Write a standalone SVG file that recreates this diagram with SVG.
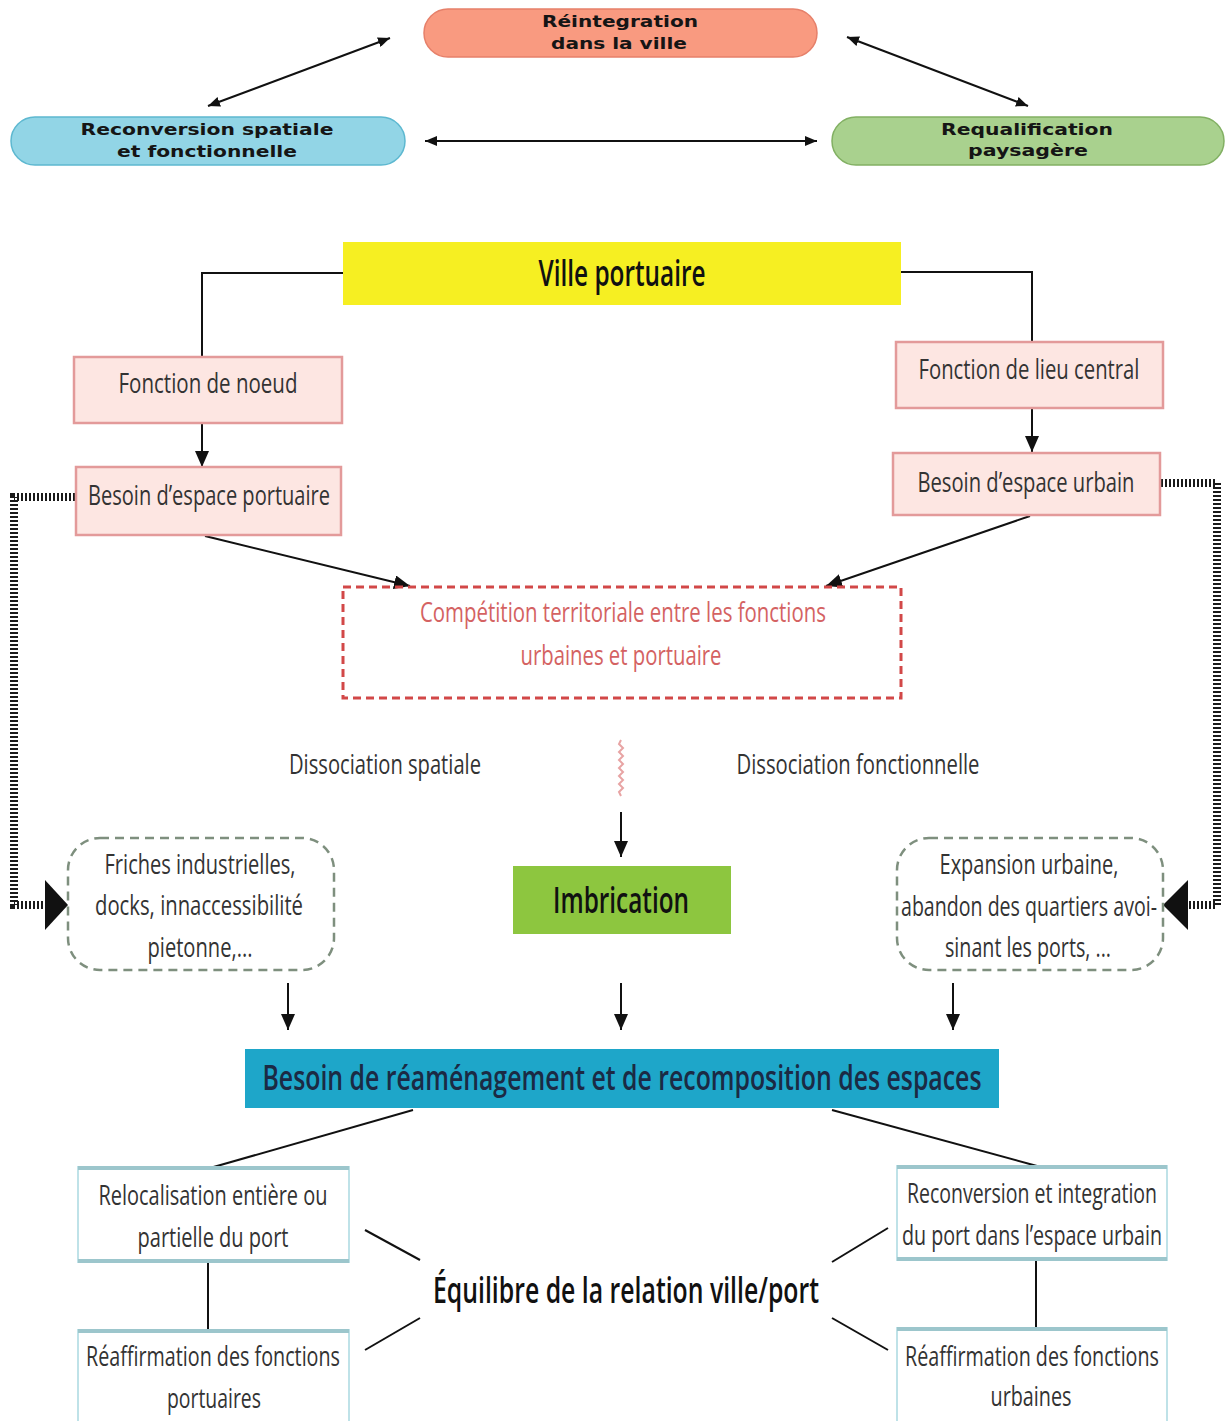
<svg xmlns="http://www.w3.org/2000/svg" width="1225" height="1421" viewBox="0 0 1225 1421">
<defs>
<style>
.t{font-family:"Open Sans","Liberation Sans",sans-serif;fill:#333;text-anchor:middle;}
.h{font-weight:600;}
.tb{font-family:"DejaVu Sans","Liberation Sans",sans-serif;font-weight:bold;font-size:16px;fill:#151515;text-anchor:middle;}
.pink{fill:#fde6e2;stroke:#e39a9a;stroke-width:2.5;}
.blue{fill:#ffffff;stroke:#bfe2e8;stroke-width:2;}
.edge{stroke:#9cc6cc;stroke-width:4;}
.ln{fill:none;stroke:#111;stroke-width:2;}
.stripe{fill:none;stroke:#1a1a1a;stroke-width:8;stroke-dasharray:2 2;}
</style>
<marker id="ah" viewBox="0 0 12 10" refX="12" refY="5" markerWidth="12" markerHeight="10" markerUnits="userSpaceOnUse" orient="auto-start-reverse">
<path d="M0,0 L12,5 L0,10 z" fill="#111"/>
</marker>
<marker id="ahb" viewBox="0 0 16 14" refX="16" refY="7" markerWidth="16" markerHeight="14" markerUnits="userSpaceOnUse" orient="auto">
<path d="M0,0 L16,7 L0,14 z" fill="#111"/>
</marker>
</defs>
<rect width="1225" height="1421" fill="#ffffff"/>

<g id="connectors">
<line class="ln" x1="390" y1="38" x2="208" y2="106" marker-start="url(#ah)" marker-end="url(#ah)"/>
<line class="ln" x1="847" y1="37" x2="1028" y2="106" marker-start="url(#ah)" marker-end="url(#ah)"/>
<line class="ln" x1="425" y1="141" x2="817" y2="141" marker-start="url(#ah)" marker-end="url(#ah)"/>
<polyline class="ln" points="343,273 202,273 202,357"/>
<polyline class="ln" points="901,272 1032,272 1032,342"/>
<line class="ln" x1="202" y1="423" x2="202" y2="467" marker-end="url(#ahb)"/>
<line class="ln" x1="1032" y1="408" x2="1032" y2="452" marker-end="url(#ahb)"/>
<line class="ln" x1="205" y1="536" x2="410" y2="586" marker-end="url(#ahb)"/>
<line class="ln" x1="1030" y1="516" x2="826" y2="586" marker-end="url(#ahb)"/>
<polyline class="stripe" points="75,497 14,497 14,905 46,905"/>
<polygon points="45,880 68,905 45,930" fill="#111"/>
<polyline class="stripe" points="1161,483 1217,483 1217,905 1187,905"/>
<polygon points="1188,880 1163,905 1188,930" fill="#111"/>
<path d="M621,740 l-2,4 l4,4 l-4,4 l4,4 l-4,4 l4,4 l-4,4 l4,4 l-4,4 l4,4 l-4,4 l4,4 l-4,4 l2,4" fill="none" stroke="#e8a4a4" stroke-width="2"/>
<line class="ln" x1="621" y1="812" x2="621" y2="857" marker-end="url(#ahb)"/>
<line class="ln" x1="288" y1="983" x2="288" y2="1030" marker-end="url(#ahb)"/>
<line class="ln" x1="621" y1="983" x2="621" y2="1030" marker-end="url(#ahb)"/>
<line class="ln" x1="953" y1="983" x2="953" y2="1030" marker-end="url(#ahb)"/>
<line class="ln" x1="413" y1="1110" x2="210" y2="1168"/>
<line class="ln" x1="832" y1="1110" x2="1037" y2="1166"/>
<line class="ln" x1="208" y1="1262" x2="208" y2="1330" stroke-width="1.5"/>
<line class="ln" x1="1036" y1="1260" x2="1036" y2="1328" stroke-width="1.5"/>
<line class="ln" x1="365" y1="1230" x2="420" y2="1260"/>
<line class="ln" x1="365" y1="1350" x2="420" y2="1318"/>
<line class="ln" x1="832" y1="1262" x2="888" y2="1228"/>
<line class="ln" x1="832" y1="1318" x2="888" y2="1350"/>
</g>

<g id="n-reintegration">
<rect x="424" y="9" width="393" height="48" rx="24" fill="#f99a80" stroke="#e6806a" stroke-width="1.5"/>
<text class="tb" x="620" y="27" textLength="156" lengthAdjust="spacingAndGlyphs">Réintegration</text>
<text class="tb" x="619" y="49" textLength="136" lengthAdjust="spacingAndGlyphs">dans la ville</text>
</g>
<g id="n-reconversion-spatiale">
<rect x="11" y="117" width="394" height="48" rx="24" fill="#92d5e6" stroke="#5db8d0" stroke-width="1.5"/>
<text class="tb" x="207" y="135" textLength="253" lengthAdjust="spacingAndGlyphs">Reconversion spatiale</text>
<text class="tb" x="207" y="157" textLength="180" lengthAdjust="spacingAndGlyphs">et fonctionnelle</text>
</g>
<g id="n-requalification">
<rect x="832" y="117" width="392" height="48" rx="24" fill="#a9d18e" stroke="#82b063" stroke-width="1.5"/>
<text class="tb" x="1027" y="135" textLength="172" lengthAdjust="spacingAndGlyphs">Requalification</text>
<text class="tb" x="1028" y="156" textLength="120" lengthAdjust="spacingAndGlyphs">paysagère</text>
</g>

<g id="n-ville-portuaire">
<rect x="343" y="242" width="558" height="63" fill="#f6ef22"/>
<text class="t h" x="622" y="286" font-size="36" style="fill:#111" textLength="167" lengthAdjust="spacingAndGlyphs">Ville portuaire</text>
</g>
<g id="n-fonction-noeud">
<rect class="pink" x="74" y="357" width="268" height="66"/>
<text class="t" x="208" y="393" font-size="28" textLength="179" lengthAdjust="spacingAndGlyphs">Fonction de noeud</text>
</g>
<g id="n-besoin-portuaire">
<rect class="pink" x="76" y="467" width="265" height="68"/>
<text class="t" x="209" y="505" font-size="28" textLength="242" lengthAdjust="spacingAndGlyphs">Besoin d’espace portuaire</text>
</g>
<g id="n-fonction-lieu">
<rect class="pink" x="896" y="342" width="267" height="66"/>
<text class="t" x="1029" y="379" font-size="28" textLength="221" lengthAdjust="spacingAndGlyphs">Fonction de lieu central</text>
</g>
<g id="n-besoin-urbain">
<rect class="pink" x="893" y="453" width="267" height="62"/>
<text class="t" x="1026" y="492" font-size="28" textLength="217" lengthAdjust="spacingAndGlyphs">Besoin d’espace urbain</text>
</g>
<g id="n-competition">
<rect x="343" y="587" width="558" height="111" fill="none" stroke="#d24848" stroke-width="3" stroke-dasharray="8 5"/>
<text class="t" x="623" y="622" font-size="28" style="fill:#d46262" textLength="406" lengthAdjust="spacingAndGlyphs">Compétition territoriale entre les fonctions</text>
<text class="t" x="621" y="665" font-size="28" style="fill:#d46262" textLength="201" lengthAdjust="spacingAndGlyphs">urbaines et portuaire</text>
</g>
<g id="l-dissociation-spatiale">
<text class="t" x="385" y="774" font-size="28" textLength="192" lengthAdjust="spacingAndGlyphs">Dissociation spatiale</text>
</g>
<g id="l-dissociation-fonctionnelle">
<text class="t" x="858" y="774" font-size="28" textLength="243" lengthAdjust="spacingAndGlyphs">Dissociation fonctionnelle</text>
</g>
<g id="n-imbrication">
<rect x="513" y="866" width="218" height="68" fill="#8dc63f"/>
<text class="t h" x="621" y="913" font-size="36" style="fill:#111" textLength="136" lengthAdjust="spacingAndGlyphs">Imbrication</text>
</g>
<g id="n-friches">
<rect x="68" y="838" width="266" height="132" rx="32" fill="#ffffff" stroke="#7e8f7e" stroke-width="2.5" stroke-dasharray="9 6"/>
<text class="t" x="200" y="874" font-size="27" textLength="191" lengthAdjust="spacingAndGlyphs">Friches industrielles,</text>
<text class="t" x="199" y="915" font-size="27" textLength="208" lengthAdjust="spacingAndGlyphs">docks, innaccessibilité</text>
<text class="t" x="200" y="957" font-size="27" textLength="105" lengthAdjust="spacingAndGlyphs">pietonne,...</text>
</g>
<g id="n-expansion">
<rect x="897" y="838" width="266" height="132" rx="32" fill="#ffffff" stroke="#7e8f7e" stroke-width="2.5" stroke-dasharray="9 6"/>
<text class="t" x="1029" y="874" font-size="27" textLength="179" lengthAdjust="spacingAndGlyphs">Expansion urbaine,</text>
<text class="t" x="1029" y="916" font-size="27" textLength="256" lengthAdjust="spacingAndGlyphs">abandon des quartiers avoi-</text>
<text class="t" x="1028" y="957" font-size="27" textLength="166" lengthAdjust="spacingAndGlyphs">sinant les ports, ...</text>
</g>
<g id="n-reamenagement">
<rect x="245" y="1049" width="754" height="59" fill="#1ea6c9"/>
<text class="t h" x="622" y="1090" font-size="34" style="fill:#1b2a44" textLength="719" lengthAdjust="spacingAndGlyphs">Besoin de réaménagement et de recomposition des espaces</text>
</g>
<g id="n-relocalisation">
<rect class="blue" x="78" y="1167" width="271" height="95"/>
<line class="edge" x1="78" y1="1168" x2="349" y2="1168"/>
<line class="edge" x1="78" y1="1261" x2="349" y2="1261"/>
<text class="t" x="213" y="1205" font-size="27" textLength="229" lengthAdjust="spacingAndGlyphs">Relocalisation entière ou</text>
<text class="t" x="213" y="1247" font-size="27" textLength="151" lengthAdjust="spacingAndGlyphs">partielle du port</text>
</g>
<g id="n-reaffirmation-portuaires">
<rect class="blue" x="78" y="1330" width="271" height="95"/>
<line class="edge" x1="78" y1="1331" x2="349" y2="1331"/>
<text class="t" x="213" y="1366" font-size="27" textLength="254" lengthAdjust="spacingAndGlyphs">Réaffirmation des fonctions</text>
<text class="t" x="214" y="1408" font-size="27" textLength="94" lengthAdjust="spacingAndGlyphs">portuaires</text>
</g>
<g id="n-reconversion-integration">
<rect class="blue" x="897" y="1166" width="270" height="94"/>
<line class="edge" x1="897" y1="1167" x2="1167" y2="1167"/>
<line class="edge" x1="897" y1="1259" x2="1167" y2="1259"/>
<text class="t" x="1032" y="1203" font-size="27" textLength="250" lengthAdjust="spacingAndGlyphs">Reconversion et integration</text>
<text class="t" x="1032" y="1245" font-size="27" textLength="260" lengthAdjust="spacingAndGlyphs">du port dans l’espace urbain</text>
</g>
<g id="n-reaffirmation-urbaines">
<rect class="blue" x="897" y="1328" width="270" height="97"/>
<line class="edge" x1="897" y1="1329" x2="1167" y2="1329"/>
<text class="t" x="1032" y="1366" font-size="27" textLength="254" lengthAdjust="spacingAndGlyphs">Réaffirmation des fonctions</text>
<text class="t" x="1031" y="1406" font-size="27" textLength="81" lengthAdjust="spacingAndGlyphs">urbaines</text>
</g>
<g id="n-equilibre">
<text class="t h" x="626" y="1303" font-size="36" style="fill:#111" textLength="386" lengthAdjust="spacingAndGlyphs">Équilibre de la relation ville/port</text>
</g>
</svg>
